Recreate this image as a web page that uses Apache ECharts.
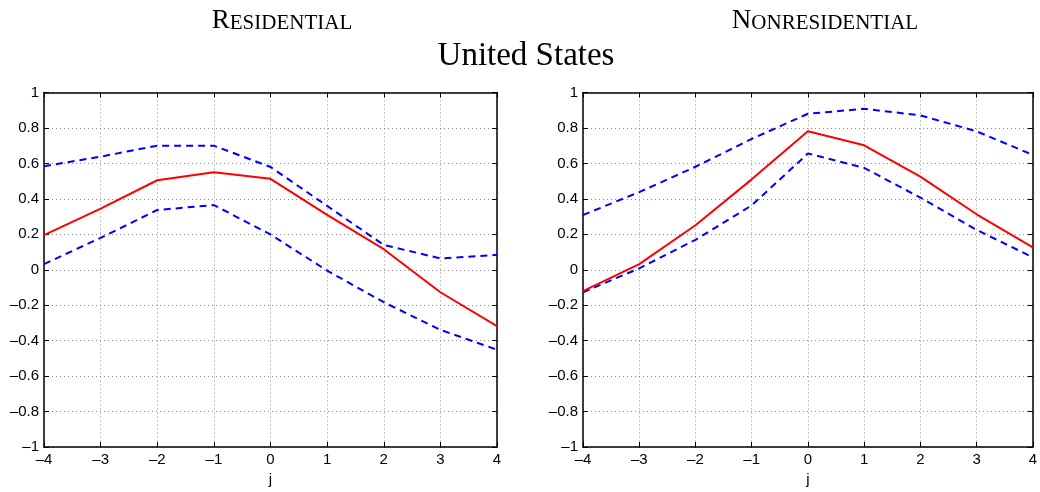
<!DOCTYPE html>
<html>
<head>
<meta charset="utf-8">
<script src="https://cdn.jsdelivr.net/npm/echarts@6/dist/echarts.min.js"></script>
<style>html,body{margin:0;padding:0;background:#fff}#c{width:1040px;height:492px}</style>
</head>
<body>
<div id="c"></div>
<script>
const jVals = [-4, -3, -2, -1, 0, 1, 2, 3, 4];
const resMid   = [0.195, 0.345, 0.505, 0.55, 0.513, 0.31, 0.116, -0.127, -0.318];
const resUpper = [0.584, 0.638, 0.70, 0.70, 0.58, 0.36, 0.14, 0.064, 0.084];
const resLower = [0.032, 0.18, 0.337, 0.365, 0.199, -0.005, -0.183, -0.339, -0.451];
const nonMid   = [-0.121, 0.032, 0.251, 0.51, 0.781, 0.702, 0.525, 0.313, 0.126];
const nonUpper = [0.309, 0.438, 0.581, 0.738, 0.88, 0.908, 0.871, 0.781, 0.648];
const nonLower = [-0.127, 0.008, 0.169, 0.363, 0.656, 0.575, 0.407, 0.225, 0.07];
const yTicks = [-1, -0.8, -0.6, -0.4, -0.2, 0, 0.2, 0.4, 0.6, 0.8, 1];
const xTicks = jVals;

const zip = ys => jVals.map((x, i) => [x, ys[i]]);
const fmt = v => { const r = Math.round(v * 10) / 10; return String(r).replace('-', '\u2013'); };
const sans = 'Liberation Sans';
const serif = 'Liberation Serif';

function xAx(gi, bottom) {
  return {
    type: 'value', gridIndex: gi, min: -4, max: 4, interval: 1,
    position: bottom ? 'bottom' : 'top',
    name: bottom ? 'j' : '', nameLocation: 'middle', nameGap: 25,
    nameTextStyle: { fontFamily: sans, fontSize: 15, color: '#000' },
    axisLine: { show: true, onZero: false, lineStyle: { color: '#000', width: 1.5 } },
    axisTick: { show: true, inside: true, length: 5, lineStyle: { color: '#000' } },
    axisLabel: { show: bottom, fontFamily: sans, fontSize: 15, color: '#000', margin: 5, formatter: fmt },
    splitLine: { show: bottom, lineStyle: { color: '#8a8a8a', type: [1, 3], width: 1 } }
  };
}
function yAx(gi, left) {
  return {
    type: 'value', gridIndex: gi, min: -1, max: 1, interval: 0.2,
    position: left ? 'left' : 'right',
    axisLine: { show: true, onZero: false, lineStyle: { color: '#000', width: 1.5 } },
    axisTick: { show: true, inside: true, length: 5, lineStyle: { color: '#000' } },
    axisLabel: { show: left, fontFamily: sans, fontSize: 15, color: '#000', margin: 5, formatter: fmt },
    splitLine: { show: left, lineStyle: { color: '#8a8a8a', type: [1, 3], width: 1 } }
  };
}
function ser(gi, data, color, dashed) {
  return {
    type: 'line', xAxisIndex: gi * 2, yAxisIndex: gi * 2, data: zip(data),
    symbol: 'none', silent: true, animation: false,
    lineStyle: { color: color, width: 2, type: dashed ? [7, 5] : 'solid' }
  };
}

const smallCaps = (first, rest) => '{a|' + first + '}{b|' + rest + '}';
const richSC = {
  a: { fontFamily: serif, fontSize: 27, fontWeight: 'normal', color: '#000', verticalAlign: 'bottom' },
  b: { fontFamily: serif, fontSize: 21, fontWeight: 'normal', color: '#000', verticalAlign: 'bottom' }
};

const chart = echarts.init(document.getElementById('c'), null, { renderer: 'canvas' });
chart.setOption({
  animation: false,
  backgroundColor: '#fff',
  title: [
    { text: smallCaps('R', 'ESIDENTIAL'), left: 277, top: 2, textAlign: 'center', textStyle: { fontWeight: 'normal', rich: richSC } },
    { text: smallCaps('N', 'ONRESIDENTIAL'), left: 820, top: 2, textAlign: 'center', textStyle: { fontWeight: 'normal', rich: richSC } },
    { text: 'United States', left: 521, top: 35, textAlign: 'center', textStyle: { fontFamily: serif, fontSize: 33, fontWeight: 'normal', color: '#000' } }
  ],
  grid: [
    { left: 44, right: 543, top: 92.5, bottom: 43.5, containLabel: false },
    { left: 583, right: 4, top: 92.5, bottom: 43.5, containLabel: false }
  ],
  xAxis: [xAx(0, true), xAx(0, false), xAx(1, true), xAx(1, false)],
  yAxis: [yAx(0, true), yAx(0, false), yAx(1, true), yAx(1, false)],
  series: [
    ser(0, resUpper, '#0000ff', true),
    ser(0, resLower, '#0000ff', true),
    ser(0, resMid, '#ff0000', false),
    ser(1, nonUpper, '#0000ff', true),
    ser(1, nonLower, '#0000ff', true),
    ser(1, nonMid, '#ff0000', false)
  ]
});
</script>
</body>
</html>
